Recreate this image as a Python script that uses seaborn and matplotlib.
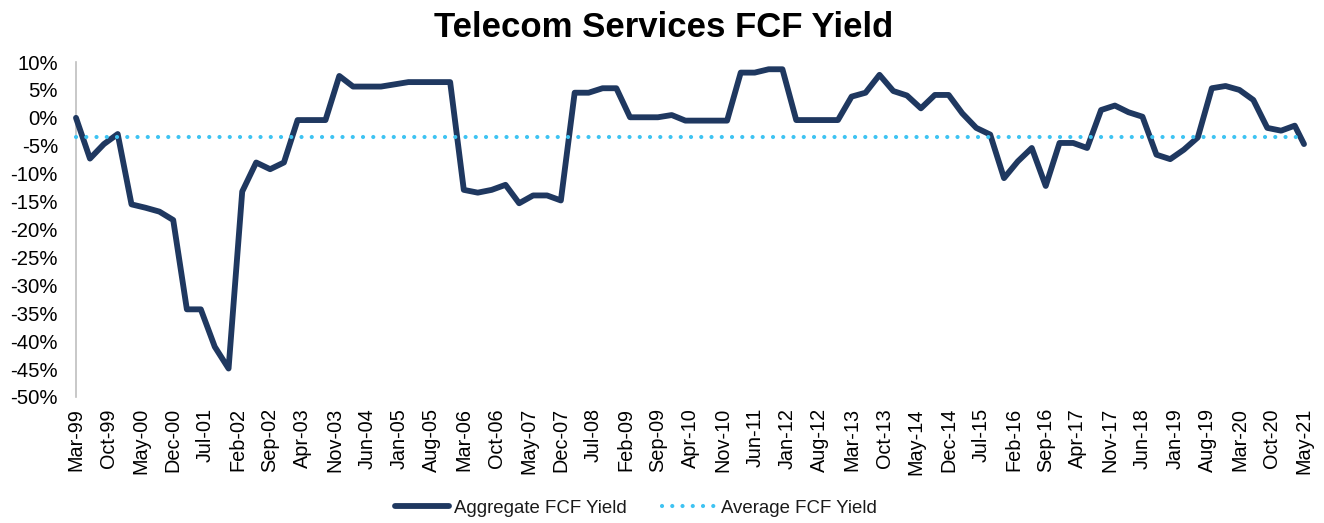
import matplotlib
matplotlib.use("Agg")
import matplotlib.pyplot as plt
import matplotlib.dates as mdates
from matplotlib.ticker import FuncFormatter, FixedLocator
import seaborn as sns
import pandas as pd

# ---- data ----
title = "Telecom Services FCF Yield"
series_name = "Aggregate FCF Yield"
avg_name = "Average FCF Yield"

quarter_dates = list(pd.date_range("1999-03-01", "2021-03-01", freq="3MS")) + [pd.Timestamp("2021-05-01")]

fcf_yield = [
    0.0, -7.3, -4.7, -2.9,          # 1999
    -15.5, -16.1, -16.8, -18.3,     # 2000
    -34.3, -34.3, -41.0, -44.9,     # 2001
    -13.2, -8.0, -9.2, -8.0,        # 2002
    -0.4, -0.4, -0.4, 7.5,          # 2003
    5.6, 5.6, 5.6, 6.0,             # 2004
    6.4, 6.4, 6.4, 6.4,             # 2005
    -12.9, -13.4, -12.9, -12.0,     # 2006
    -15.3, -13.9, -13.9, -14.8,     # 2007
    4.5, 4.5, 5.3, 5.3,             # 2008
    0.1, 0.1, 0.1, 0.5,             # 2009
    -0.5, -0.5, -0.5, -0.5,         # 2010
    8.1, 8.1, 8.7, 8.7,             # 2011
    -0.4, -0.4, -0.4, -0.4,         # 2012
    3.8, 4.5, 7.7, 4.8,             # 2013
    4.0, 1.7, 4.1, 4.1,             # 2014
    0.8, -1.8, -3.0, -10.8,         # 2015
    -7.8, -5.4, -12.2, -4.5,        # 2016
    -4.5, -5.4, 1.4, 2.2,           # 2017
    1.0, 0.2, -6.6, -7.4,           # 2018
    -5.7, -3.5, 5.3, 5.7,           # 2019
    5.0, 3.2, -1.8, -2.3,           # 2020
    -1.4, -4.7,                     # 2021 (Mar, May)
]
avg_value = -3.5

y_ticks = [10, 5, 0, -5, -10, -15, -20, -25, -30, -35, -40, -45, -50]

df = pd.DataFrame({"date": quarter_dates, "value": fcf_yield, "series": series_name})
df_avg = pd.DataFrame({"date": quarter_dates, "value": [avg_value] * len(quarter_dates), "series": avg_name})

# ---- styling ----
sns.set_theme(style="white")
plt.rcParams["font.family"] = ["Liberation Sans", "DejaVu Sans"]

navy = "#1F3860"
sky = "#3EC3F2"

fig = plt.figure(figsize=(13.24, 5.23), dpi=100)
ax = fig.add_axes([76 / 1324, 1 - 397 / 523, (1304 - 76) / 1324, (397 - 62) / 523])

sns.lineplot(data=df, x="date", y="value", ax=ax, color=navy, linewidth=4.2,
             label=series_name, solid_joinstyle="round", solid_capstyle="round",
             clip_on=False, zorder=3)
sns.lineplot(data=df_avg, x="date", y="value", ax=ax, color=sky, linewidth=3.0,
             label=avg_name, linestyle=(0, (0.01, 2.45)), dash_capstyle="round",
             clip_on=False, zorder=4)

ax.set_xlim(pd.Timestamp("1999-03-01"), pd.Timestamp("2021-05-01"))
ax.set_ylim(-50, 10)

tick_dates = pd.date_range("1999-03-01", "2021-05-01", freq="7MS")
ax.xaxis.set_major_locator(FixedLocator(mdates.date2num(tick_dates)))
ax.xaxis.set_major_formatter(mdates.DateFormatter("%b-%y"))
ax.set_yticks(y_ticks)
ax.yaxis.set_major_formatter(FuncFormatter(lambda v, p: f"{int(round(v))}%"))

ax.tick_params(axis="x", labelsize=14.3, rotation=90, length=0, pad=8, colors="black")
ax.tick_params(axis="y", labelsize=14.6, length=0, pad=13, colors="black")

ax.set_xlabel("")
ax.set_ylabel("")
for s in ["top", "right", "bottom"]:
    ax.spines[s].set_visible(False)
ax.spines["left"].set_color("#BFBFBF")
ax.spines["left"].set_linewidth(1.2)
ax.grid(False)

fig.text(664 / 1324, 1 - 37 / 523, title, ha="center", va="baseline", fontsize=25,
         fontweight="bold", color="black")

leg = ax.legend(loc="center", bbox_to_anchor=(636 / 1324, 1 - 508 / 523), bbox_transform=fig.transFigure,
                ncol=2, frameon=False, fontsize=13.4, handlelength=2.9, columnspacing=1.9,
                handletextpad=0.25)
for t in leg.get_texts():
    t.set_color("#1a1a1a")

fig.savefig("out.png", dpi=100)
